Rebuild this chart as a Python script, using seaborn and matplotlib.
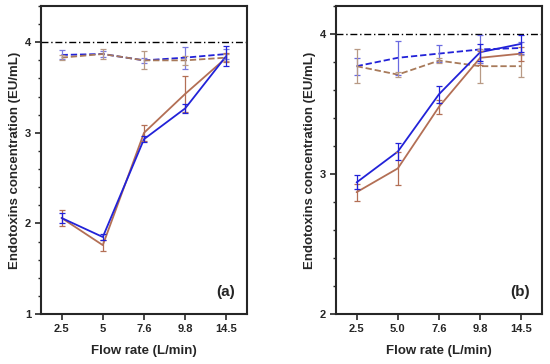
import numpy as np
import pandas as pd
import matplotlib
matplotlib.use("Agg")
import matplotlib.pyplot as plt
from matplotlib.ticker import MultipleLocator
import seaborn as sns

sns.set_style("ticks")
plt.rcParams['font.family'] = ['Liberation Sans', 'DejaVu Sans']

flow_a = ["2.5", "5", "7.6", "9.8", "14.5"]
flow_b = ["2.5", "5.0", "7.6", "9.8", "14.5"]

# Panel (a)
a_blue_solid = [2.06, 1.85, 2.93, 3.27, 3.85]
a_blue_solid_err = [0.05, 0.03, 0.03, 0.05, 0.11]
a_brown_solid = [2.06, 1.76, 3.00, 3.43, 3.83]
a_brown_solid_err = [0.09, 0.06, 0.09, 0.20, 0.05]
a_blue_dash = [3.86, 3.87, 3.80, 3.83, 3.87]
a_blue_dash_err = [0.05, 0.03, 0.03, 0.12, 0.05]
a_brown_dash = [3.83, 3.87, 3.80, 3.80, 3.83]
a_brown_dash_err = [0.03, 0.05, 0.10, 0.05, 0.04]

# Panel (b)
b_blue_solid = [2.94, 3.16, 3.57, 3.87, 3.93]
b_blue_solid_err = [0.05, 0.06, 0.06, 0.06, 0.06]
b_brown_solid = [2.87, 3.04, 3.48, 3.83, 3.86]
b_brown_solid_err = [0.06, 0.12, 0.05, 0.05, 0.05]
b_blue_dash = [3.77, 3.83, 3.86, 3.89, 3.90]
b_blue_dash_err = [0.06, 0.12, 0.06, 0.10, 0.04]
b_brown_dash = [3.77, 3.71, 3.81, 3.77, 3.77]
b_brown_dash_err = [0.12, 0.02, 0.02, 0.12, 0.08]

BLUE = "#2222d8"
BROWN = "#b36f55"
BROWN_D = "#a87a5a"

fig = plt.figure(figsize=(5.5, 3.64), dpi=100)
ax_a = fig.add_axes([41/550, 1-314/364, (247-41)/550, (314-6)/364])
ax_b = fig.add_axes([336/550, 1-314/364, (542-336)/550, (314-6)/364])

def draw(ax, labels, series, ylim, tag):
    pos = np.arange(len(labels))
    for vals, errs, color, ls, ecol in series:
        df = pd.DataFrame({"x": pos, "y": vals})
        sns.lineplot(data=df, x="x", y="y", ax=ax, color=color, lw=1.3,
                     linestyle=ls)
        if ls != "-":
            ax.lines[-1].set_dashes((3.5, 1.6))
        ax.errorbar(pos, vals, yerr=errs, fmt="none", ecolor=ecol,
                    elinewidth=0.9, capsize=2.2, capthick=0.9, zorder=3)
    ax.axhline(4, color="black", lw=1.0, linestyle=(0, (5, 2, 1, 2)), zorder=1)
    ax.set_xlim(-0.5, 4.5)
    ax.set_ylim(*ylim)
    ax.set_xticks(pos)
    ax.set_xticklabels(labels)
    ax.yaxis.set_major_locator(MultipleLocator(1))
    ax.yaxis.set_minor_locator(MultipleLocator(0.2))
    ax.tick_params(axis="both", which="major", length=4, width=1.2, labelsize=8, pad=3)
    ax.tick_params(axis="y", which="minor", length=2.5, width=1.0)
    for lab in ax.get_xticklabels() + ax.get_yticklabels():
        lab.set_fontweight("bold")
    for s in ax.spines.values():
        s.set_linewidth(1.5)
        s.set_visible(True)
    ax.set_xlabel("Flow rate (L/min)", fontsize=9.5, fontweight="bold", labelpad=8)
    ax.set_ylabel("Endotoxins concentration (EU/mL)", fontsize=9.5, fontweight="bold", labelpad=3)
    ax.text(0.94, 0.05, tag, transform=ax.transAxes, ha="right", va="bottom",
            fontsize=11, fontweight="bold")

draw(ax_a, flow_a, [
    (a_blue_dash, a_blue_dash_err, BLUE, "--", "#7a7ae0"),
    (a_brown_dash, a_brown_dash_err, BROWN_D, "--", "#b89a85"),
    (a_brown_solid, a_brown_solid_err, BROWN, "-", BROWN),
    (a_blue_solid, a_blue_solid_err, BLUE, "-", BLUE),
], (1, 4.4), "(a)")

draw(ax_b, flow_b, [
    (b_blue_dash, b_blue_dash_err, BLUE, "--", "#6a6ae0"),
    (b_brown_dash, b_brown_dash_err, BROWN_D, "--", "#b89a85"),
    (b_brown_solid, b_brown_solid_err, BROWN, "-", BROWN),
    (b_blue_solid, b_blue_solid_err, BLUE, "-", BLUE),
], (2, 4.2), "(b)")

fig.savefig("out.png", dpi=100)
